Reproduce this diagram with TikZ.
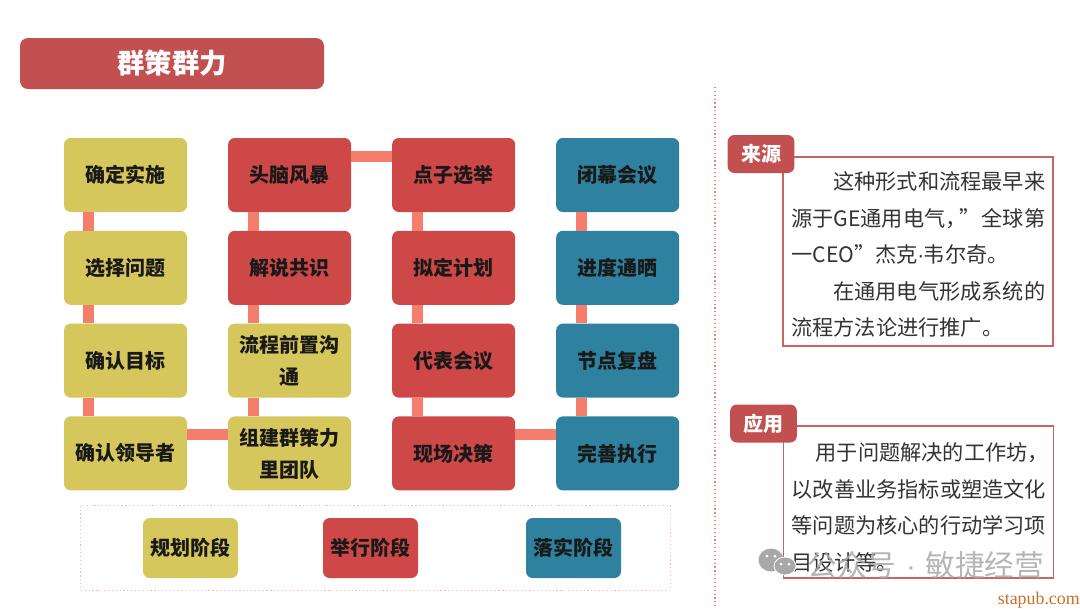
\documentclass[tikz,border=0pt]{standalone}
\usepackage{fontspec}
\setmainfont{Noto Sans CJK SC}
\newfontfamily\stampfont{Liberation Serif}
\usetikzlibrary{positioning,calc}
\definecolor{planyellow}{HTML}{D6C75C}
\definecolor{holdred}{HTML}{CF4848}
\definecolor{doneteal}{HTML}{2E829F}
\definecolor{linksalmon}{HTML}{F47D6C}
\definecolor{titlered}{HTML}{C25050}
\definecolor{panelline}{HTML}{C96464}
\definecolor{bodygray}{HTML}{333333}
\definecolor{markgray}{HTML}{A8A8A8}
\definecolor{stampbrown}{HTML}{C8702A}
\newcommand{\fitline}[1]{\makebox[190.5pt][s]{#1}}
\newcommand{\thindot}{\makebox[4.5pt]{\fontspec{Liberation Sans}·}}

\begin{document}
\begin{tikzpicture}[
        x=0.75pt, y=-0.75pt,
        node distance=13.7pt and 30.4pt,
        stepbox/.style={rectangle, rounded corners=5pt, align=center, minimum width=92.25pt, minimum height=55.5pt, inner sep=1pt, text=black!90, font=\fontsize{15pt}{24pt}\selectfont\bfseries},
        plan/.style={stepbox, fill=planyellow},
        hold/.style={stepbox, fill=holdred},
        done/.style={stepbox, fill=doneteal},
        phase/.style={minimum width=71.25pt, minimum height=45pt},
        link/.style={draw=linksalmon, line width=8.25pt},
        tag/.style={rectangle, rounded corners=5pt, fill=titlered, text=white, minimum width=50pt, minimum height=28.5pt, inner sep=0pt, font=\fontsize{15pt}{18pt}\selectfont\bfseries},
        panel/.style={draw=panelline, line width=1pt},
        bodytext/.style={anchor=north west, inner sep=0pt, align=left, text=bodygray, font=\fontsize{15.9pt}{27.4pt}\selectfont},
        dotline/.style={draw=linksalmon, line width=0.9pt, dotted}
    ]
        \useasboundingbox (0,0) rectangle (1080,608);

        % title
        \node[rectangle, rounded corners=6pt, fill=titlered, text=white, minimum width=228pt, minimum height=38.25pt, font=\fontsize{20.5pt}{24pt}\selectfont\bfseries] (title) at (172,63.5) {群策群力};

        % the four columns
        \node[plan] (a1) at (125.5,175) {确定实施};
        \node[plan, below=of a1] (a2) {选择问题};
        \node[plan, below=of a2] (a3) {确认目标};
        \node[plan, below=of a3] (a4) {确认领导者};
        \node[hold, right=of a1] (b1) {头脑风暴};
        \node[hold, below=of b1] (b2) {解说共识};
        \node[plan, below=of b2] (b3) {流程前置沟\\通};
        \node[plan, below=of b3] (b4) {组建群策力\\里团队};
        \node[hold, right=of b1] (c1) {点子选举};
        \node[hold, below=of c1] (c2) {拟定计划};
        \node[hold, below=of c2] (c3) {代表会议};
        \node[hold, below=of c3] (c4) {现场决策};
        \node[done, right=of c1] (d1) {闭幕会议};
        \node[done, below=of d1] (d2) {进度通晒};
        \node[done, below=of d2] (d3) {节点复盘};
        \node[done, below=of d3] (d4) {完善执行};

        % links
        \foreach \col in {a,b,c,d}{
            \draw[link] ([xshift=-27.4pt]\col1.south) -- ([xshift=-27.4pt]\col2.north);
            \draw[link] ([xshift=-27.4pt]\col2.south) -- ([xshift=-27.4pt]\col3.north);
            \draw[link] ([xshift=-27.4pt]\col3.south) -- ([xshift=-27.4pt]\col4.north);
        }
        \draw[link] ([yshift=14.25pt]b1.east) -- ([yshift=14.25pt]c1.west);
        \draw[link] ([yshift=14.25pt]a4.east) -- ([yshift=14.25pt]b4.west);
        \draw[link] ([yshift=14.25pt]c4.east) -- ([yshift=14.25pt]d4.west);

        % legend
        \node[dotline, draw=linksalmon!55, line width=0.7pt, minimum width=442pt, minimum height=63.75pt] (legend) at (375.5,547.5) {};
        \node[plan, phase] (phase1) at (190.5,548) {规划阶段};
        \node[hold, phase] (phase2) at (370.5,548) {举行阶段};
        \node[done, phase] (phase3) at (573.5,548) {落实阶段};

        % divider
        \coordinate (divtop) at (715,87);
        \coordinate (divend) at (715,608);
        \draw[dotline] (divtop) -- (divend);

        % right side
        \node[panel, minimum width=202.5pt, minimum height=141.75pt] (box1) at (918,251.5) {};
        \node[tag] (tag1) at (761,154) {来源};
        \node[bodytext] (text1) at (791,171.5) {\hspace*{31.5pt}这种形式和流程最早来\\
            \fitline{源于GE通用电气，\hspace{-5.5pt}”\hfill 全球第}\\
            一CEO”杰克\thindot 韦尔奇。\\
            \hspace*{31.5pt}在通用电气形成系统的\\
            流程方法论进行推广。};

        \node[panel, minimum width=202.5pt, minimum height=114pt] (box2) at (918.5,502) {};
        \node[tag] (tag2) at (763.5,423.5) {应用};
        \node[bodytext] (text2) at (791.5,442.5) {\hspace*{18pt}用于问题解决的工作坊，\\
            以改善业务指标或塑造文化\\
            等问题为核心的行动学习项\\
            目设计等。};

        % marks
        \fill[markgray] (771,560) ellipse (12.5 and 11.5);
        \fill[markgray, draw=white, line width=0.6pt] (785,566) ellipse (11 and 9);
        \foreach \spot in {(767,556),(775,556),(781,564),(789,564)}
            \fill[white] \spot circle (1.5);
        \node[anchor=west, inner sep=0pt, text=markgray, opacity=0.85, font=\fontsize{22.3pt}{24pt}\selectfont] (mark) at (807,565) {公众号\makebox[21.75pt]{\fontspec{Liberation Sans}·}敏捷经营};
        \node[anchor=east, inner sep=0pt, text=stampbrown, font=\fontsize{13.4pt}{15pt}\selectfont\stampfont] (stamp) at (1080,600) {stapub.com};
    \end{tikzpicture}
\end{document}
